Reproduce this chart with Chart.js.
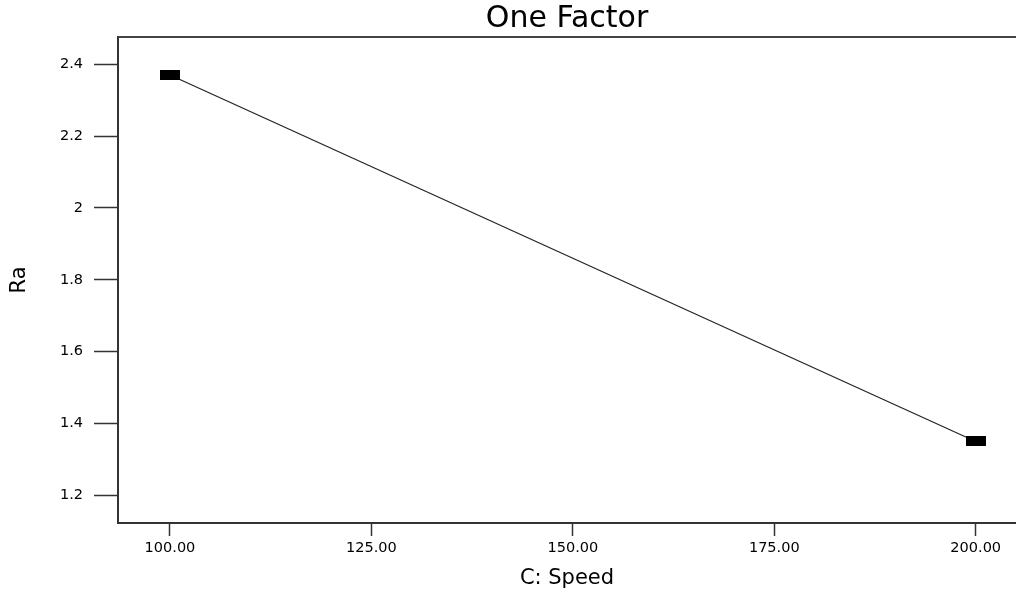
<!DOCTYPE html>
<html>
<head>
<meta charset="utf-8">
<script src="https://cdn.jsdelivr.net/npm/chart.js@4.4.1/dist/chart.umd.min.js"></script>
<style>
    body { margin: 0; background: #fff; overflow: hidden; }
</style>
</head>
<body>
<canvas id="myChart" width="1016" height="591"></canvas>
<script>
const speed = [100, 200];
const ra = [2.37, 1.35];
const xTicks = [100, 125, 150, 175, 200];
const yTicks = [1.2, 1.4, 1.6, 1.8, 2, 2.2, 2.4];

const FONT = 'DejaVu Sans, Verdana, sans-serif';

// black bar marker used by the original plot
function makeMarker() {
    const c = document.createElement('canvas');
    c.width = 20;
    c.height = 10;
    const g = c.getContext('2d');
    g.fillStyle = '#000';
    g.fillRect(0, 0, 20, 10);
    return c;
}

// top frame line (no right border is visible in the reference)
const topFrame = {
    id: 'topFrame',
    afterDraw(chart) {
        const { ctx, chartArea } = chart;
        ctx.save();
        ctx.strokeStyle = '#444';
        ctx.lineWidth = 2;
        ctx.beginPath();
        ctx.moveTo(chartArea.left, chartArea.top);
        ctx.lineTo(chartArea.right, chartArea.top);
        ctx.stroke();
        ctx.restore();
    }
};

document.addEventListener('DOMContentLoaded', function () {
    const marker = makeMarker();
    let ctx = document.getElementById('myChart').getContext('2d');

    new Chart(ctx, {
        type: 'scatter',
        data: {
            datasets: [{
                label: 'Ra',
                data: speed.map((s, i) => ({ x: s, y: ra[i] })),
                showLine: true,
                borderColor: '#222',
                borderWidth: 1.2,
                pointStyle: marker,
                clip: false
            }]
        },
        options: {
            responsive: false,
            animation: false,
            layout: { padding: 0, autoPadding: false },
            plugins: {
                legend: { display: false },
                tooltip: { enabled: false },
                title: {
                    display: true,
                    text: 'One Factor',
                    fullSize: false,
                    color: '#000',
                    font: { family: FONT, size: 30, weight: 'normal', lineHeight: 1.2 },
                    padding: { top: 1, bottom: 0 }
                }
            },
            scales: {
                x: {
                    type: 'linear',
                    min: 93.55,
                    max: 205,
                    afterFit: function (scale) { scale.height = 68; },
                    afterBuildTicks: function (scale) {
                        scale.ticks = xTicks.map(v => ({ value: v }));
                    },
                    ticks: {
                        color: '#000',
                        padding: 4,
                        maxRotation: 0,
                        font: { family: FONT, size: 14.5 },
                        callback: v => Number(v).toFixed(2)
                    },
                    grid: {
                        drawOnChartArea: false,
                        tickLength: 13,
                        tickColor: '#333',
                        tickWidth: 1.5
                    },
                    border: { display: true, color: '#333', width: 2 },
                    title: {
                        display: true,
                        text: 'C: Speed',
                        color: '#000',
                        font: { family: FONT, size: 21 },
                        padding: { top: 4, bottom: 0 }
                    }
                },
                y: {
                    min: 1.123,
                    max: 2.476,
                    afterFit: function (scale) { scale.width = 118; },
                    afterBuildTicks: function (scale) {
                        scale.ticks = yTicks.map(v => ({ value: v }));
                    },
                    ticks: {
                        color: '#000',
                        padding: 11,
                        font: { family: FONT, size: 14.5 },
                        callback: v => String(Math.round(v * 10) / 10)
                    },
                    grid: {
                        drawOnChartArea: false,
                        tickLength: 24,
                        tickColor: '#333',
                        tickWidth: 1.5
                    },
                    border: { display: true, color: '#333', width: 2 },
                    title: {
                        display: true,
                        text: 'Ra',
                        color: '#000',
                        font: { family: FONT, size: 21 },
                        padding: { top: 7, bottom: 0 }
                    }
                }
            }
        },
        plugins: [topFrame]
    });
});
</script>
</body>
</html>
